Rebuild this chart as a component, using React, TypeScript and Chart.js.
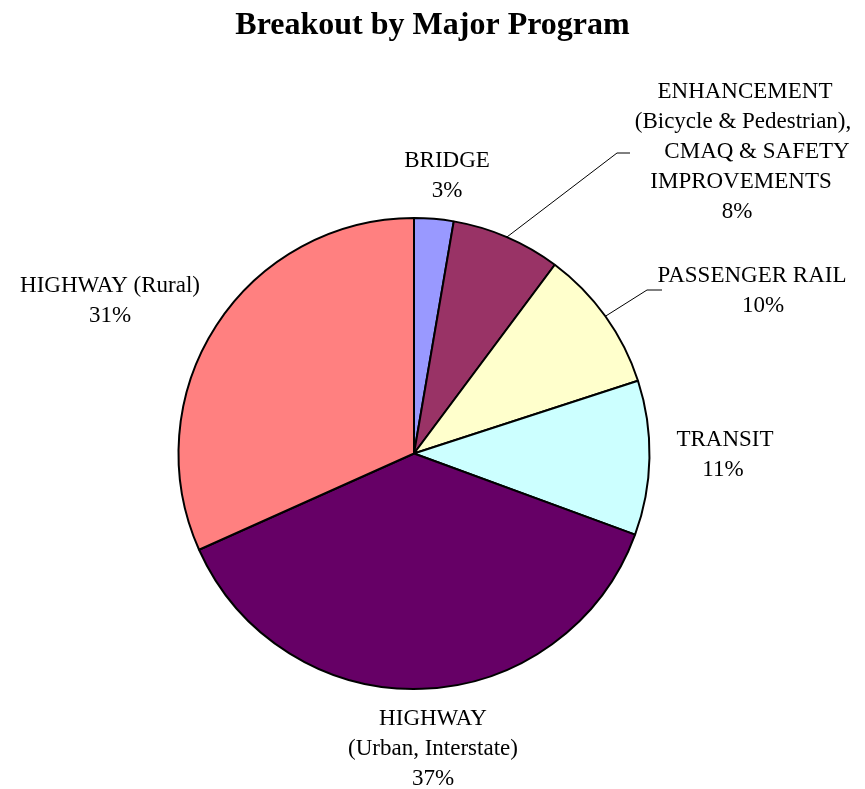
import React, { useEffect, useRef } from "react";
import { Chart, registerables } from "chart.js";

Chart.register(...registerables);

const categories = [
  "BRIDGE",
  "ENHANCEMENT (Bicycle & Pedestrian), CMAQ & SAFETY IMPROVEMENTS",
  "PASSENGER RAIL",
  "TRANSIT",
  "HIGHWAY (Urban, Interstate)",
  "HIGHWAY (Rural)",
];
const values = [2.7, 7.5, 9.8, 10.6, 37.7, 31.7];
const percentLabels = ["3%", "8%", "10%", "11%", "37%", "31%"];
const labelLines = [
  ["BRIDGE"],
  ["ENHANCEMENT", "(Bicycle & Pedestrian),", "CMAQ & SAFETY", "IMPROVEMENTS"],
  ["PASSENGER RAIL"],
  ["TRANSIT"],
  ["HIGHWAY", "(Urban, Interstate)"],
  ["HIGHWAY (Rural)"],
];
const colors = ["#9999FF", "#993366", "#FFFFCC", "#CCFFFF", "#660066", "#FF8080"];
const title = "Breakout by Major Program";

// label layout (canvas px): per-line center x, first line y
const labelLayout = [
  { xs: [447, 447], y: 161 },
  { xs: [745, 743, 757, 741, 737], y: 92 },
  { xs: [752, 763], y: 276 },
  { xs: [725, 723], y: 440 },
  { xs: [433, 433, 433], y: 719 },
  { xs: [110, 110], y: 286 },
];
const leaders: Record<number, [number, number][]> = {
  1: [[617, 153], [630, 153]],
  2: [[647, 290], [662, 290]],
};

const labelPlugin = {
  id: "pieLabels",
  afterDraw(chart: any) {
    const ctx = chart.ctx;
    ctx.save();
    ctx.fillStyle = "#000";
    ctx.textAlign = "center";
    ctx.textBaseline = "middle";
    ctx.font = "bold 32px 'Liberation Serif', 'Times New Roman', serif";
    ctx.fillText(title, chart.width / 2, 26);

    const meta = chart.getDatasetMeta(0);
    ctx.font = "23px 'Liberation Serif', 'Times New Roman', serif";
    meta.data.forEach((arc: any, i: number) => {
      const lay = labelLayout[i];
      const lines = [...labelLines[i], percentLabels[i]];
      lines.forEach((t, j) => {
        ctx.fillText(t, lay.xs[j] ?? lay.xs[0], lay.y + j * 30);
      });
      const pts = leaders[i];
      if (pts) {
        const mid = (arc.startAngle + arc.endAngle) / 2;
        const sx = arc.x + Math.cos(mid) * arc.outerRadius;
        const sy = arc.y + Math.sin(mid) * arc.outerRadius;
        ctx.beginPath();
        ctx.strokeStyle = "#000";
        ctx.lineWidth = 1;
        ctx.moveTo(sx, sy);
        pts.forEach(([x, y]) => ctx.lineTo(x, y));
        ctx.stroke();
      }
    });
    ctx.restore();
  },
};

export default function App() {
  const ref = useRef<HTMLCanvasElement>(null);
  useEffect(() => {
    if (!ref.current) return;
    const chart = new Chart(ref.current, {
      type: "pie",
      data: {
        labels: categories,
        datasets: [
          {
            data: values,
            backgroundColor: colors,
            borderColor: "#000",
            borderWidth: 2,
          },
        ],
      },
      options: {
        animation: false,
        responsive: false,
        layout: { padding: { left: 177, right: 214, top: 217, bottom: 99 } },
        plugins: {
          legend: { display: false },
          tooltip: { enabled: false },
          title: { display: false },
        },
      },
      plugins: [labelPlugin],
    });
    return () => chart.destroy();
  }, []);
  return (
    <div style={{ position: "fixed", left: 0, top: 0, width: 865, height: 789, background: "#fff" }}>
      <canvas ref={ref} width={865} height={789} />
    </div>
  );
}
